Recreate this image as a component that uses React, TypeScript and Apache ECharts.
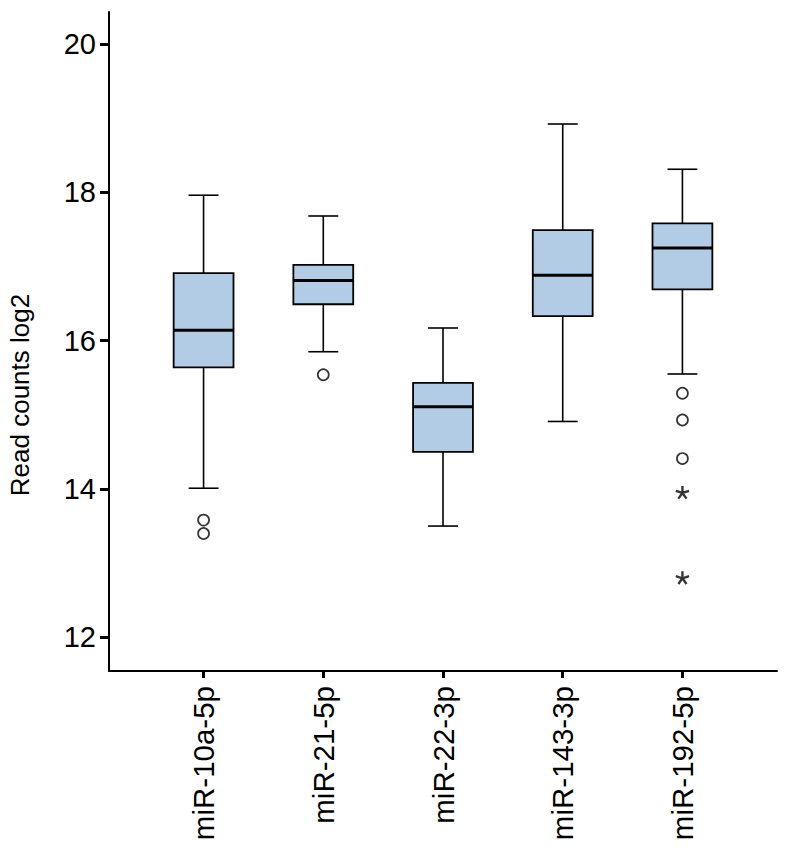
import { useEffect, useRef } from "react";
import * as echarts from "echarts";

const categories = ["miR-10a-5p", "miR-21-5p", "miR-22-3p", "miR-143-3p", "miR-192-5p"];
const lowerWhisker = [14.01, 15.85, 13.5, 14.91, 15.55];
const q1 = [15.64, 16.49, 14.5, 16.33, 16.69];
const median = [16.14, 16.81, 15.11, 16.88, 17.25];
const q3 = [16.91, 17.02, 15.43, 17.49, 17.58];
const upperWhisker = [17.96, 17.68, 16.17, 18.92, 18.31];
const outlierCategory = [0, 0, 1, 4, 4, 4];
const outlierValue = [13.58, 13.4, 15.54, 15.29, 14.93, 14.41];
const extremeCategory = [4, 4];
const extremeValue = [13.95, 12.8];
const yTicks = [12, 14, 16, 18, 20];
const xTicks = [0, 1, 2, 3, 4];
const yTitle = "Read counts log2";

function asteriskPath(): string {
  const L = 10;
  const t = 1.7;
  const parts: string[] = [];
  [-90, -18, 54, 126, 198].forEach((deg) => {
    const a = (deg * Math.PI) / 180;
    const c = Math.cos(a);
    const s = Math.sin(a);
    const px = -s * t;
    const py = c * t;
    const cx = 12;
    const cy = 12;
    parts.push(
      `M${(cx + px).toFixed(2)} ${(cy + py).toFixed(2)}L${(cx + L * c + px).toFixed(2)} ${(cy + L * s + py).toFixed(2)}L${(cx + L * c - px).toFixed(2)} ${(cy + L * s - py).toFixed(2)}L${(cx - px).toFixed(2)} ${(cy - py).toFixed(2)}Z`
    );
  });
  return "path://" + parts.join("");
}

export default function App() {
  const ref = useRef<HTMLDivElement>(null);
  useEffect(() => {
    if (!ref.current) return;
    const chart = echarts.init(ref.current, undefined, { renderer: "svg" });
    const font = "'Liberation Sans', Arial, Helvetica, sans-serif";
    const boxData = categories.map((_, i) => [i, lowerWhisker[i], q1[i], median[i], q3[i], upperWhisker[i]]);
    chart.setOption({
      animation: false,
      backgroundColor: "#ffffff",
      grid: { left: 109, right: 12, top: 12, bottom: 177 },
      graphic: [
        {
          type: "text",
          x: 20,
          y: 395,
          rotation: Math.PI / 2,
          style: {
            text: yTitle,
            fontSize: 26,
            fontFamily: font,
            fill: "#000",
            align: "center",
            verticalAlign: "middle",
          },
        },
      ],
      xAxis: {
        type: "value",
        min: -0.79,
        max: 4.79,
        splitLine: { show: false },
        axisLine: { show: true, onZero: false, lineStyle: { color: "#000", width: 2 } },
        axisTick: { show: true, customValues: xTicks, length: 7, lineStyle: { color: "#000", width: 3 } },
        axisLabel: {
          show: true,
          customValues: xTicks,
          rotate: 90,
          margin: 15,
          fontSize: 29.5,
          color: "#000",
          fontFamily: font,
          formatter: (v: number) => categories[Math.round(v)] ?? "",
        },
      },
      yAxis: {
        type: "value",
        min: 11.546,
        max: 20.43,
        splitLine: { show: false },
        axisLine: { show: true, onZero: false, lineStyle: { color: "#000", width: 2 } },
        axisTick: { show: true, customValues: yTicks, length: 9, lineStyle: { color: "#000", width: 3 } },
        axisLabel: {
          show: true,
          customValues: yTicks,
          margin: 13,
          fontSize: 29,
          color: "#000",
          fontFamily: font,
        },
      },
      series: [
        {
          type: "custom",
          data: boxData,
          encode: { x: 0, y: [1, 2, 3, 4, 5] },
          renderItem: (params: any, api: any) => {
            const x = api.value(0);
            const pLo = api.coord([x, api.value(1)]);
            const pQ1 = api.coord([x, api.value(2)]);
            const pMed = api.coord([x, api.value(3)]);
            const pQ3 = api.coord([x, api.value(4)]);
            const pHi = api.coord([x, api.value(5)]);
            const w = api.size([0.5, 0])[0];
            const hw = w / 2;
            const cw = w / 4;
            const cx = pLo[0];
            const lineStyle = { stroke: "#000", lineWidth: 1.6 };
            return {
              type: "group",
              children: [
                { type: "line", shape: { x1: cx, y1: pQ3[1], x2: cx, y2: pHi[1] }, style: lineStyle },
                { type: "line", shape: { x1: cx, y1: pQ1[1], x2: cx, y2: pLo[1] }, style: lineStyle },
                { type: "line", shape: { x1: cx - cw, y1: pHi[1], x2: cx + cw, y2: pHi[1] }, style: lineStyle },
                { type: "line", shape: { x1: cx - cw, y1: pLo[1], x2: cx + cw, y2: pLo[1] }, style: lineStyle },
                {
                  type: "rect",
                  shape: { x: cx - hw, y: pQ3[1], width: w, height: pQ1[1] - pQ3[1] },
                  style: { fill: "#b3cce6", stroke: "#000", lineWidth: 1.8 },
                },
                { type: "line", shape: { x1: cx - hw, y1: pMed[1], x2: cx + hw, y2: pMed[1] }, style: { stroke: "#000", lineWidth: 3 } },
              ],
            };
          },
        },
        {
          type: "scatter",
          data: outlierCategory.map((c, i) => [c, outlierValue[i]]),
          symbol: "circle",
          symbolSize: 11,
          itemStyle: { color: "#fff", borderColor: "#000", borderWidth: 1.7 },
        },
        {
          type: "scatter",
          data: extremeCategory.map((c, i) => [c, extremeValue[i]]),
          symbol: asteriskPath(),
          symbolKeepAspect: true,
          symbolSize: 14,
          itemStyle: { color: "#000" },
        },
      ],
    });
    return () => chart.dispose();
  }, []);
  return <div ref={ref} style={{ position: "fixed", left: 0, top: 0, width: 789, height: 848 }} />;
}
